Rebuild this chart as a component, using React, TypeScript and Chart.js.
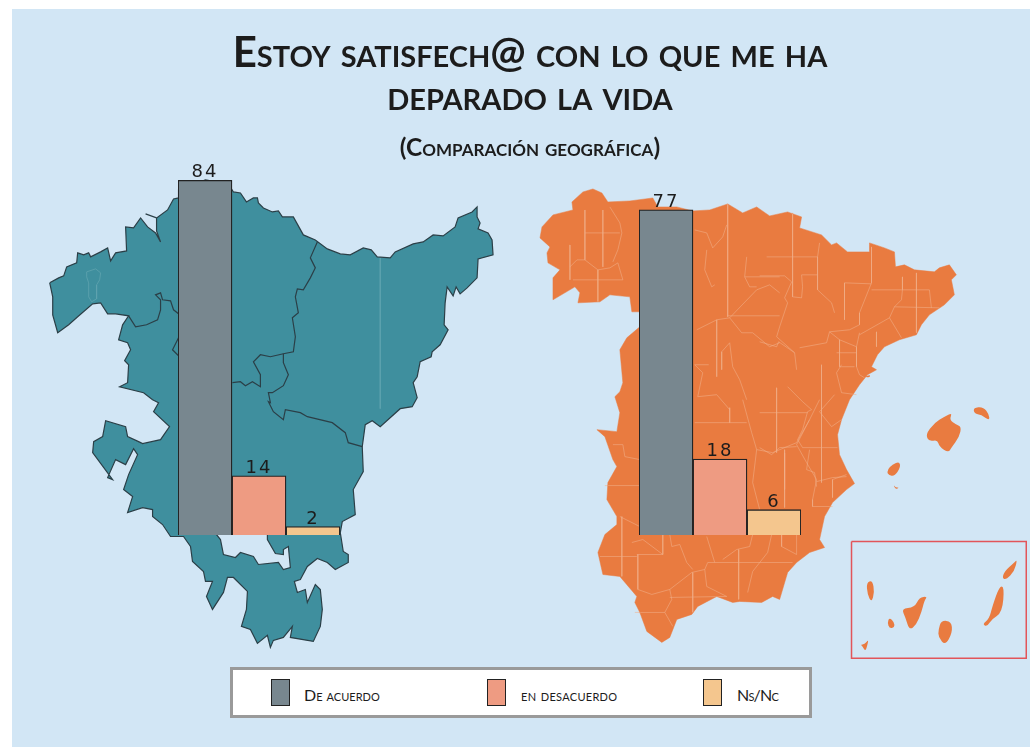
import React, { useEffect, useRef } from "react";
import { Chart, registerables } from "chart.js";

Chart.register(...registerables);

type P = [number, number];

const titleLines = ["Estoy satisfech@ con lo que me ha", "deparado la vida"];
const subtitleText = "(Comparación geográfica)";
const categories = ["De acuerdo", "en desacuerdo", "Ns/Nc"];
const euskadiValues = [84, 14, 2];
const espanaValues = [77, 18, 6];
const barColors = ["#78878F", "#EE9B82", "#F4C68E"];
const PANEL = "#D2E6F5";
const TEAL = "#3F8F9E";
const ORANGE = "#E97B40";
const TEAL_LINE = "#2B3F47";
const ORANGE_LINE = "rgba(241,176,138,0.62)";

const euskadiOutline: P[] = [[49,283],[58,278],[63,276],[66,267],[76,263],[77,253],[83,255],[88,253],[90,257],[100,252],[107,248],[110,261],[115,253],[126,251],[125,227],[133,228],[140,218],[147,227],[155,233],[160,242],[156,231],[156,218],[167,210],[173,199],[178,198],[178,190],[205,180],[228,184],[233,192],[240,193],[246,202],[253,198],[257,198],[258,203],[263,208],[272,212],[278,211],[282,217],[293,217],[303,235],[315,240],[327,249],[340,254],[350,255],[363,248],[371,250],[377,257],[390,258],[395,252],[413,244],[423,242],[433,235],[443,236],[455,227],[458,218],[472,212],[477,207],[477,217],[480,223],[478,229],[488,233],[492,240],[493,255],[478,259],[477,278],[467,288],[460,294],[456,287],[453,296],[447,287],[445,303],[444,325],[448,330],[440,345],[432,352],[431,357],[420,362],[417,377],[413,383],[417,398],[412,407],[400,409],[380,427],[372,421],[365,425],[362,447],[363,472],[353,490],[355,515],[342,522],[340,533],[343,552],[348,555],[348,563],[335,570],[327,563],[317,559],[307,567],[300,580],[294,582],[297,593],[305,590],[307,603],[315,585],[320,590],[322,610],[320,627],[313,642],[290,638],[292,627],[283,638],[273,641],[270,648],[267,636],[257,644],[250,630],[241,627],[246,610],[247,592],[233,578],[227,578],[223,593],[212,610],[206,597],[212,582],[205,582],[203,572],[192,562],[190,547],[183,537],[170,537],[162,525],[152,517],[152,510],[142,508],[127,513],[132,497],[123,490],[128,475],[137,455],[133,449],[125,465],[115,460],[107,478],[112,480],[92,453],[93,442],[102,437],[105,421],[125,427],[127,437],[138,442],[142,444],[160,440],[169,427],[153,412],[158,403],[152,400],[143,393],[119,387],[127,383],[128,365],[124,361],[130,350],[127,343],[118,340],[122,325],[128,316],[115,314],[107,314],[100,303],[92,304],[77,317],[68,325],[57,333],[52,315],[52,297],[49,283]];
const euskadiHole: P[] = [[212,530],[220,540],[223,555],[235,558],[240,553],[253,557],[258,565],[278,563],[283,570],[290,568],[288,547],[283,550],[283,555],[275,554],[267,540],[267,530]];
const euskadiBorders: P[][] = [
  [[128,316],[135,327],[146,325],[157,320],[160,310],[160,300],[155,295],[160,293],[162,300],[170,301],[173,310],[178,314]],
  [[178,338],[172,350],[178,356]],
  [[232,383],[240,382],[245,386],[252,382],[260,387],[260,375],[253,362],[260,355],[270,357],[283,354],[293,352],[295,337],[292,318],[298,313],[295,297],[297,289],[303,290],[310,278],[315,268],[310,258],[317,242]],
  [[283,354],[283,363],[288,375],[283,386],[272,393],[268,393],[270,403],[268,402],[273,412],[283,420],[285,410],[300,413],[307,417],[332,423],[345,433],[348,443],[362,447]],
  [[145,214],[156,218]],
];
const euskadiFaint: P[][] = [
  [[86,272],[95,269],[100,273],[99,280],[96,285],[96,299],[91,302],[88,297],[88,283],[86,277],[86,272]],
  [[380,258],[380,409]],
];

const espanaOutline: P[] = [[540,238],[542,227],[553,215],[573,210],[572,202],[583,192],[593,189],[602,193],[608,202],[630,201],[653,198],[658,207],[677,207],[693,211],[710,210],[728,204],[743,213],[757,207],[770,216],[788,212],[802,217],[800,228],[822,235],[832,245],[837,243],[848,252],[870,252],[870,243],[885,248],[895,252],[896,267],[905,265],[915,270],[935,272],[940,268],[950,265],[957,275],[952,280],[955,295],[945,305],[930,315],[922,325],[917,335],[900,340],[885,347],[878,355],[872,367],[877,370],[868,375],[860,385],[850,400],[842,420],[838,435],[840,455],[847,470],[855,484],[847,490],[833,503],[825,517],[820,540],[825,548],[810,553],[797,563],[788,573],[780,600],[773,597],[762,603],[740,602],[733,603],[717,597],[698,607],[692,615],[677,620],[670,638],[662,643],[647,632],[640,613],[635,603],[637,597],[620,577],[603,575],[598,553],[605,535],[617,525],[617,517],[607,500],[608,483],[617,467],[613,460],[605,437],[597,430],[617,432],[620,413],[615,397],[620,392],[623,383],[620,350],[627,338],[640,327],[640,312],[632,312],[630,297],[610,295],[600,302],[578,303],[580,293],[575,287],[553,300],[553,278],[560,270],[548,263],[547,253],[550,247],[540,238]];
const espanaIslands: P[][] = [
  [[926,435],[935,423],[945,417],[953,413],[950,420],[957,425],[962,427],[960,437],[952,448],[949,453],[940,447],[938,440],[930,442]],
  [[974,408],[984,407],[990,415],[990,421],[982,415],[975,414]],
  [[888,470],[893,465],[900,462],[901,468],[895,477],[888,475]],
  [[894,485],[896,488],[900,488],[896,490]],
  [[865,377],[871,375],[870,378]],
  [[867,583],[873,581],[875,593],[872,603],[868,595]],
  [[902,609],[915,608],[920,598],[928,597],[925,601],[922,613],[917,625],[910,631],[906,618]],
  [[890,618],[895,623],[895,628],[890,629],[888,623]],
  [[861,645],[865,645],[869,640],[868,645],[866,652],[863,647]],
  [[942,621],[952,622],[953,633],[946,646],[939,638],[939,630]],
  [[1000,587],[1005,587],[1003,613],[992,620],[988,627],[983,625],[990,619],[993,607]],
  [[1005,572],[1015,563],[1018,560],[1015,572],[1007,580],[1003,579]],
];
const espanaBorders: P[][] = [
  [[585,210],[585,260],[598,270],[610,268],[618,263],[623,280]],
  [[610,207],[620,223],[622,233],[618,250],[613,262]],
  [[570,267],[577,260],[585,260]],
  [[573,280],[623,280]],
  [[570,245],[570,280]],
  [[585,233],[620,233]],
  [[603,210],[603,267]],
  [[598,270],[598,302]],
  [[695,230],[707,233],[713,248],[723,237],[727,225]],
  [[707,250],[705,270],[712,287],[715,285]],
  [[728,204],[728,317]],
  [[728,316],[780,316]],
  [[697,330],[717,320],[730,318],[742,333],[753,333],[770,347],[780,343]],
  [[730,318],[757,290],[770,285],[780,293]],
  [[745,277],[780,277]],
  [[747,257],[745,277],[750,287],[757,287]],
  [[722,352],[730,343],[733,367],[740,380],[747,400]],
  [[717,320],[717,377]],
  [[722,352],[722,370]],
  [[695,365],[709,365]],
  [[695,365],[703,373],[698,397],[717,395],[730,410]],
  [[793,213],[793,297],[802,298],[803,287],[802,275],[818,275]],
  [[767,257],[818,257],[820,243]],
  [[760,276],[785,276],[792,282],[785,298],[788,303],[780,327],[777,337],[795,353],[797,370]],
  [[818,257],[818,290],[832,303],[835,313]],
  [[872,247],[872,283],[860,313],[860,325],[850,330],[830,332],[840,340],[857,347]],
  [[845,283],[872,284]],
  [[845,283],[845,320]],
  [[872,290],[903,290],[902,300],[895,307],[890,318],[860,335]],
  [[895,307],[940,308]],
  [[917,273],[917,333]],
  [[903,277],[903,290],[917,290],[930,290],[932,308]],
  [[890,318],[902,338]],
  [[877,332],[877,347]],
  [[860,333],[857,347],[857,367],[860,375],[865,378]],
  [[840,340],[840,367],[855,367]],
  [[837,353],[857,353]],
  [[842,365],[837,373],[842,393],[857,395]],
  [[835,395],[828,403],[820,412],[832,427],[842,420]],
  [[788,387],[803,402],[812,410],[808,412],[803,430],[798,440],[803,448],[838,448]],
  [[822,365],[822,483]],
  [[760,413],[808,413]],
  [[777,388],[777,453]],
  [[760,448],[772,455],[780,448],[797,447]],
  [[785,453],[785,490]],
  [[810,450],[807,470],[815,473],[817,487]],
  [[833,480],[833,498]],
  [[833,480],[847,475]],
  [[760,342],[777,347],[779,342],[795,353]],
  [[800,348],[827,343],[830,332]],
  [[695,423],[747,423]],
  [[730,408],[730,423]],
  [[743,400],[752,433],[757,450],[773,453],[797,443],[810,420]],
  [[757,450],[753,483],[760,510]],
  [[785,450],[785,508]],
  [[807,463],[817,480],[813,500],[813,507],[833,507]],
  [[817,482],[833,478],[847,477]],
  [[632,543],[643,540],[663,555],[637,555]],
  [[638,555],[638,590],[652,595],[670,590],[692,573],[705,570],[708,563],[740,563],[793,563]],
  [[663,535],[663,555]],
  [[707,537],[715,563]],
  [[670,535],[672,547],[680,545],[687,563],[693,570]],
  [[739,550],[739,600]],
  [[753,535],[750,547],[737,550],[723,560]],
  [[772,535],[768,553],[753,572],[748,593]],
  [[782,535],[782,547],[797,555],[797,535]],
  [[693,573],[693,613]],
  [[670,598],[727,597]],
  [[665,613],[672,600],[670,590]],
  [[635,613],[665,613]],
  [[665,613],[673,627]],
  [[705,570],[707,587],[727,597]],
  [[622,517],[622,577]],
  [[600,557],[637,557]],
  [[620,517],[640,527]],
  [[605,486],[640,486]],
  [[613,445],[623,445],[625,457],[640,460]],
  [[820,400],[810,420],[797,445],[807,463]],
];
const insetBox: P[] = [[852,542],[1027,542],[1027,659],[852,659],[852,542]];

const toXY = (pts: P[]) => pts.map(([x, y]) => ({ x, y }));

const lineSet = (pts: P[], color: string, width: number) => ({
  data: toXY(pts), showLine: true, borderColor: color, borderWidth: width,
  pointRadius: 0, tension: 0,
});
const areaSet = (pts: P[], fillColor: string, color: string, width: number, smooth = false) => ({
  ...lineSet(pts, color, width), polyFill: fillColor, polySmooth: smooth, showLine: width > 0,
});

const polyFillPlugin = {
  id: "polyFill",
  beforeDatasetsDraw(chart: any) {
    const { ctx } = chart;
    chart.data.datasets.forEach((ds: any, i: number) => {
      if (!ds.polyFill) return;
      const pts = chart.getDatasetMeta(i).data;
      ctx.save();
      ctx.beginPath();
      if (ds.polySmooth) {
        const n = pts.length;
        const mid = (a: any, b: any) => ({ x: (a.x + b.x) / 2, y: (a.y + b.y) / 2 });
        const s = mid(pts[n - 1], pts[0]);
        ctx.moveTo(s.x, s.y);
        for (let k = 0; k < n; k++) {
          const m = mid(pts[k], pts[(k + 1) % n]);
          ctx.quadraticCurveTo(pts[k].x, pts[k].y, m.x, m.y);
        }
      } else {
        pts.forEach((p: any, k: number) => (k ? ctx.lineTo(p.x, p.y) : ctx.moveTo(p.x, p.y)));
      }
      ctx.closePath();
      ctx.fillStyle = ds.polyFill;
      ctx.fill();
      ctx.restore();
    });
  },
};

const valueLabelPlugin = {
  id: "valueLabels",
  afterDatasetsDraw(chart: any) {
    const { ctx } = chart;
    const meta = chart.getDatasetMeta(0);
    ctx.save();
    ctx.font = "18px 'DejaVu Sans'";
    (ctx as any).letterSpacing = "2px";
    ctx.fillStyle = "#1c1c1c";
    ctx.textAlign = "center";
    ctx.textBaseline = "alphabetic";
    meta.data.forEach((bar: any, i: number) => {
      ctx.fillText(String(chart.data.datasets[0].data[i]), bar.x, bar.y - 3);
    });
    ctx.restore();
  },
};

function BarLayer({ values, left }: { values: number[]; left: number }) {
  const ref = useRef<HTMLCanvasElement>(null);
  useEffect(() => {
    const chart = new Chart(ref.current!, {
      type: "bar",
      data: {
        labels: categories,
        datasets: [{
          data: values, backgroundColor: barColors, borderColor: "#222222", borderWidth: 1.3,
          barPercentage: 1, categoryPercentage: 1,
        }],
      },
      options: {
        responsive: false, animation: false,
        layout: { padding: { left: 10, right: 10, top: 0, bottom: 2 } },
        plugins: { legend: { display: false }, tooltip: { enabled: false } },
        scales: {
          x: { display: false },
          y: { display: false, min: 0, max: 90 },
        },
      },
      plugins: [valueLabelPlugin],
    } as any);
    return () => chart.destroy();
  }, []);
  return (
    <canvas ref={ref} width={182} height={382}
      style={{ position: "absolute", left: left - 10, top: 155, width: 182, height: 382 }} />
  );
}

function MapLayer() {
  const ref = useRef<HTMLCanvasElement>(null);
  useEffect(() => {
    const datasets: any[] = [
      areaSet(euskadiOutline, TEAL, TEAL_LINE, 1.2),
      areaSet(euskadiHole, PANEL, TEAL_LINE, 1.2),
      ...euskadiBorders.map((b) => lineSet(b, TEAL_LINE, 1.2)),
      ...euskadiFaint.map((b) => lineSet(b, "#5FA3AF", 0.8)),
      areaSet(espanaOutline, ORANGE, ORANGE, 0.5),
      ...espanaIslands.map((b) => areaSet(b, ORANGE, ORANGE, 0, true)),
      ...espanaBorders.map((b) => lineSet(b, ORANGE_LINE, 0.9)),
      lineSet(insetBox, "#E2555A", 1.5),
    ];
    const chart = new Chart(ref.current!, {
      type: "scatter",
      data: { datasets },
      options: {
        responsive: false, animation: false,
        layout: { padding: 0 },
        plugins: {
          legend: { display: false },
          tooltip: { enabled: false },
          title: {
            display: true, text: titleLines, color: "#1c1c1c",
            font: { family: "Lato", size: 42, weight: "small-caps bold", lineHeight: 1.03 },
            padding: { top: 32, bottom: 17 },
          },
          subtitle: {
            display: true, text: subtitleText, color: "#1c1c1c",
            font: { family: "Lato", size: 24.5, weight: "small-caps bold", lineHeight: 1 },
            padding: { top: 0, bottom: 4 },
          },
        },
        scales: {
          x: { type: "linear", display: false, min: 30, max: 1030 },
          y: { type: "linear", display: false, reverse: true, min: 0, max: 747 },
        },
      },
      plugins: [polyFillPlugin],
    } as any);
    const o: any = chart.options.scales!.y;
    o.min = chart.chartArea.top;
    o.max = chart.chartArea.bottom;
    chart.update();
    return () => chart.destroy();
  }, []);
  return (
    <canvas ref={ref} width={1000} height={747}
      style={{ position: "absolute", left: 30, top: 0, width: 1000, height: 747 }} />
  );
}

const legendLeft = [271, 487, 703];
const legendTextLeft = [304, 521, 737];
const legendTextSpacing = [0, 0.3, -0.8];

export default function App() {
  return (
    <div style={{ position: "fixed", left: 0, top: 0, width: 1030, height: 747, background: "#fff", overflow: "hidden" }}>
      <div style={{ position: "absolute", left: 12, top: 9, right: 0, bottom: 0, background: PANEL }} />
      <MapLayer />
      <BarLayer values={euskadiValues} left={178} />
      <BarLayer values={espanaValues} left={639} />
      <div style={{ position: "absolute", left: 230, top: 667, width: 576, height: 45, background: "#fff", border: "3px solid #9A9A9A" }} />
      {categories.map((c, i) => (
        <React.Fragment key={c}>
          <div style={{ position: "absolute", left: legendLeft[i], top: 679, width: 17, height: 25, background: barColors[i], border: "1px solid #222" }} />
          <div style={{ position: "absolute", left: legendTextLeft[i], top: 685, fontFamily: "Lato", fontSize: 16, lineHeight: "20px", fontVariant: "small-caps", letterSpacing: legendTextSpacing[i], color: "#1c1c1c", whiteSpace: "nowrap" }}>{c}</div>
        </React.Fragment>
      ))}
    </div>
  );
}
